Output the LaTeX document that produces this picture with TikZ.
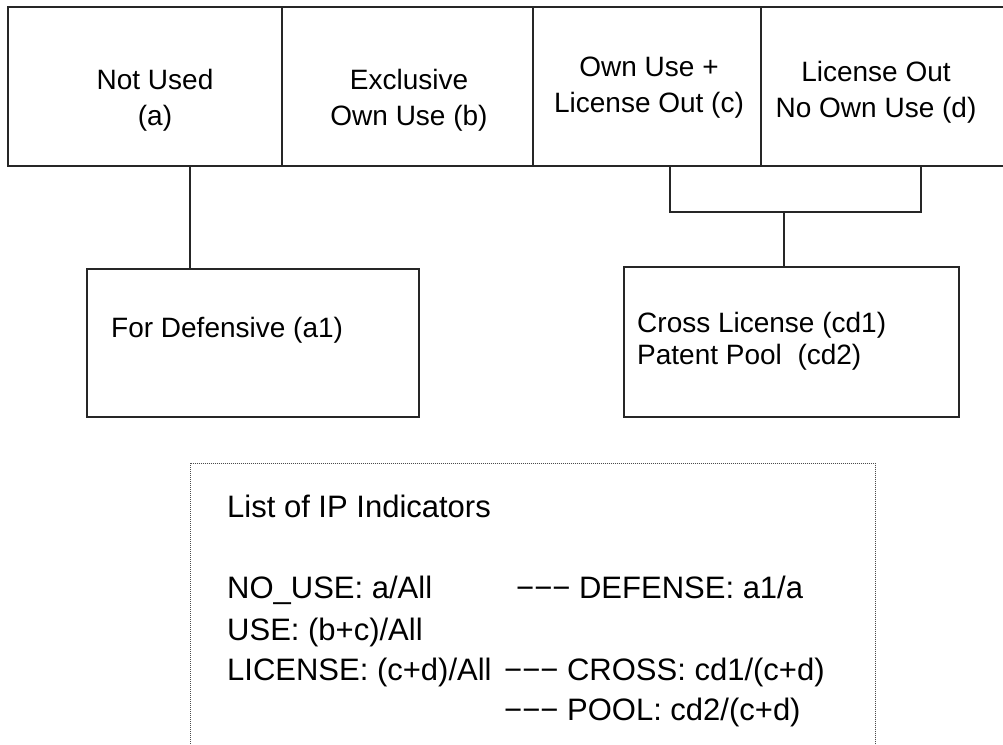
\documentclass[tikz,border=0pt]{standalone}
\usepackage{fontspec}
\setmainfont{Liberation Sans}
\usetikzlibrary{positioning}

\tikzset{
  cell/.style={draw=black!85,line width=1.2pt,inner sep=0pt,outer sep=0pt,anchor=north west},
  celltext/.style={font=\fontsize{28}{36}\selectfont,align=center,inner sep=0pt},
  subtext/.style={font=\fontsize{28}{32}\selectfont,align=left,inner sep=0pt,anchor=north west},
  listbox/.style={draw=black!70,line width=0.9pt,dash pattern=on 1pt off 1pt,inner sep=0pt,anchor=north west},
  listtext/.style={font=\fontsize{31}{40}\selectfont,inner sep=0pt,anchor=base west},
  link/.style={draw=black!85,line width=1.2pt}
}

\begin{document}
\begin{tikzpicture}[x=1pt,y=-1pt]
  \useasboundingbox (0,0) rectangle (1003,744);
  \clip (0,0) rectangle (1003,744);

  % top row of categories
  \node[cell,minimum width=274pt,minimum height=159pt] (nu) at (8,7) {};
  \node[cell,minimum width=251pt,minimum height=159pt] (ex) [right=0pt of nu] {};
  \node[cell,minimum width=228pt,minimum height=159pt] (ol) [right=0pt of ex] {};
  \node[cell,minimum width=260pt,minimum height=159pt] (lo) [right=0pt of ol] {};

  \node[celltext] (nut) at (155,100) {Not Used\\(a)};
  \node[celltext] (ext) at (409,100) {Exclusive\\Own Use (b)};
  \node[celltext] (olt) at (649,88) {Own Use +\\License Out (c)};
  \node[celltext] (lot) at (876,92) {License Out\\No Own Use (d)};

  % sub categories
  \node[cell,minimum width=332pt,minimum height=148pt] (def) at (87,269) {};
  \node[cell,minimum width=335pt,minimum height=150pt] (cp) at (624,267) {};
  \node[subtext,anchor=base west] (deft) at (111,337) {For Defensive (a1)};
  \node[subtext] (cpt) at (637,312) {Cross License (cd1)\\Patent Pool~ (cd2)};

  \coordinate (da) at ([xshift=103pt]def.north west);
  \draw[link] (da) -- (da |- nu.south);
  \coordinate (j) at (784,212);
  \draw[link] ([xshift=23pt]ol.south) |- (j) -| ([xshift=30pt]lo.south);
  \draw[link] (j) -- (j |- cp.north);

  % indicators
  \node[listbox,minimum width=685pt,minimum height=320pt] (ind) at (190,463) {};
  \node[listtext] (title) at (227,517) {List of IP Indicators};
  \node[listtext] (nouse) at (227,598) {NO\_USE: a/All};
  \node[listtext] (use) at (227,640) {USE: (b+c)/All};
  \node[listtext] (lic) at (227,680) {LICENSE: (c+d)/All};
  \node[listtext] (defense) at (516,598) {−−− DEFENSE: a1/a};
  \node[listtext] (cross) at (504,680) {−−− CROSS: cd1/(c+d)};
  \node[listtext] (pool) at (504,720) {−−− POOL: cd2/(c+d)};
\end{tikzpicture}
\end{document}
